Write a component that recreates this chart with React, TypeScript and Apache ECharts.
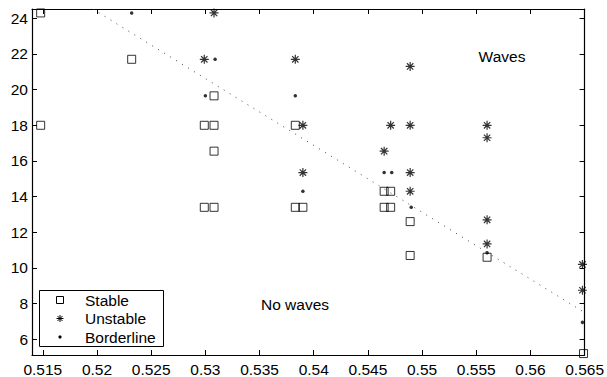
import React, { useEffect, useRef } from "react";
import * as echarts from "echarts";

const stableX = [0.5148, 0.5148, 0.5232, 0.5299, 0.5308, 0.5308, 0.5308, 0.5383, 0.5299, 0.5308, 0.5383, 0.539, 0.5465, 0.5471, 0.5465, 0.5471, 0.5489, 0.5489, 0.556, 0.5649];
const stableY = [24.3, 18.0, 21.7, 18.0, 18.0, 19.65, 16.55, 18.0, 13.4, 13.4, 13.4, 13.4, 14.3, 14.3, 13.4, 13.4, 12.6, 10.7, 10.6, 5.2];

const unstableX = [0.5308, 0.5299, 0.5383, 0.539, 0.5471, 0.5465, 0.539, 0.5489, 0.5489, 0.556, 0.556, 0.5489, 0.5489, 0.556, 0.556, 0.5648, 0.5648];
const unstableY = [24.3, 21.7, 21.7, 18.0, 18.0, 16.55, 15.35, 21.3, 18.0, 18.0, 17.3, 15.35, 14.3, 12.7, 11.35, 10.2, 8.75];

const borderX = [0.5232, 0.5309, 0.53, 0.5383, 0.5465, 0.5472, 0.539, 0.549, 0.556, 0.5648];
const borderY = [24.3, 21.7, 19.65, 19.65, 15.35, 15.35, 14.3, 13.4, 10.85, 6.95];

const lineX = [0.5196, 0.565];
const lineY = [24.52, 7.5];

const xTicks = [0.515, 0.52, 0.525, 0.53, 0.535, 0.54, 0.545, 0.55, 0.555, 0.56, 0.565];
const yTicks = [6, 8, 10, 12, 14, 16, 18, 20, 22, 24];

const seriesNames = ["Stable", "Unstable", "Borderline"];

const ASTER = "M0,-1L0,1M-1,0L1,0M-0.707,-0.707L0.707,0.707M-0.707,0.707L0.707,-0.707";
const ASTER_PX = "M0,-3.5L0,3.5M-3.5,0L3.5,0M-2.5,-2.5L2.5,2.5M-2.5,2.5L2.5,-2.5";

let registered = false;

const FONT = "'Liberation Sans', Arial, Helvetica, sans-serif";
const FS = 15.5;

export default function App() {
  const ref = useRef<HTMLDivElement>(null);
  useEffect(() => {
    if (!ref.current) return;
    if (!registered) {
      echarts.graphic.registerShape("aster", echarts.graphic.extendPath(ASTER_PX, {}));
      registered = true;
    }
    const chart = echarts.init(ref.current, null, { renderer: "svg" });
    const zip = (xs: number[], ys: number[]) => xs.map((x, i) => [x, ys[i]]);
    const fmtX = (v: number) => String(+Number(v).toFixed(3));
    const axisLine = { show: true, onZero: false, lineStyle: { color: "#000", width: 1.2 } };
    const tick = (vals: number[]) => ({ show: true, inside: true, length: 5, customValues: vals, lineStyle: { color: "#000" } });
    chart.setOption({
      animation: false,
      backgroundColor: "#fff",
      textStyle: { fontFamily: FONT },
      grid: { left: 32, right: 21, top: 9, bottom: 21, containLabel: false },
      xAxis: [
        {
          type: "value", min: 0.514, max: 0.565, position: "bottom",
          axisLine, axisTick: tick(xTicks), splitLine: { show: false },
          axisLabel: { customValues: xTicks, formatter: fmtX, color: "#000", fontSize: FS, fontFamily: FONT, margin: 6 },
        },
        {
          type: "value", min: 0.514, max: 0.565, position: "top",
          axisLine, axisTick: tick(xTicks), splitLine: { show: false }, axisLabel: { show: false },
        },
      ],
      yAxis: [
        {
          type: "value", min: 5.12, max: 24.52, position: "left",
          axisLine, axisTick: tick(yTicks), splitLine: { show: false },
          axisLabel: { customValues: yTicks, color: "#000", fontSize: FS, fontFamily: FONT, margin: 4 },
        },
        {
          type: "value", min: 5.12, max: 24.52, position: "right",
          axisLine, axisTick: tick(yTicks), splitLine: { show: false }, axisLabel: { show: false },
        },
      ],
      series: [
        {
          name: "boundary", type: "line", data: zip(lineX, lineY), symbol: "none",
          lineStyle: { color: "#444", width: 1, type: [1, 6] }, silent: true,
        },
        {
          name: seriesNames[0], type: "scatter", data: zip(stableX, stableY), symbol: "rect", symbolSize: 8,
          itemStyle: { color: "rgba(0,0,0,0)", borderColor: "#000", borderWidth: 1 },
        },
        {
          name: seriesNames[1], type: "scatter", data: zip(unstableX, unstableY), symbol: "path://" + ASTER, symbolSize: 9,
          itemStyle: { color: "#000", borderColor: "#000", borderWidth: 1.2 },
        },
        {
          name: seriesNames[2], type: "scatter", data: zip(borderX, borderY), symbol: "circle", symbolSize: 3.5,
          itemStyle: { color: "#000" },
        },
      ],
      graphic: [
        { type: "text", x: 502, y: 56, style: { text: "Waves", fontSize: FS, fontFamily: FONT, fill: "#000", align: "center", verticalAlign: "middle" } },
        { type: "text", x: 295, y: 304, style: { text: "No waves", fontSize: FS, fontFamily: FONT, fill: "#000", align: "center", verticalAlign: "middle" } },
        { type: "rect", shape: { x: 39.5, y: 290.5, width: 124, height: 56 }, style: { fill: "#fff", stroke: "#000", lineWidth: 1 }, z: 100 },
        { type: "rect", shape: { x: 56.5, y: 296.5, width: 7, height: 7 }, style: { fill: "none", stroke: "#000", lineWidth: 1 }, z: 101 },
        { type: "aster", x: 60, y: 318.5, style: { fill: "none", stroke: "#000", lineWidth: 1 }, z: 101 },
        { type: "circle", shape: { cx: 60, cy: 337, r: 1.6 }, style: { fill: "#000" }, z: 101 },
        { type: "text", x: 85, y: 300, style: { text: seriesNames[0], fontSize: FS, fontFamily: FONT, fill: "#000", verticalAlign: "middle" }, z: 101 },
        { type: "text", x: 85, y: 318.5, style: { text: seriesNames[1], fontSize: FS, fontFamily: FONT, fill: "#000", verticalAlign: "middle" }, z: 101 },
        { type: "text", x: 85, y: 337, style: { text: seriesNames[2], fontSize: FS, fontFamily: FONT, fill: "#000", verticalAlign: "middle" }, z: 101 },
      ],
    });
    return () => chart.dispose();
  }, []);
  return <div ref={ref} style={{ position: "fixed", left: 0, top: 0, width: 607, height: 377 }} />;
}
